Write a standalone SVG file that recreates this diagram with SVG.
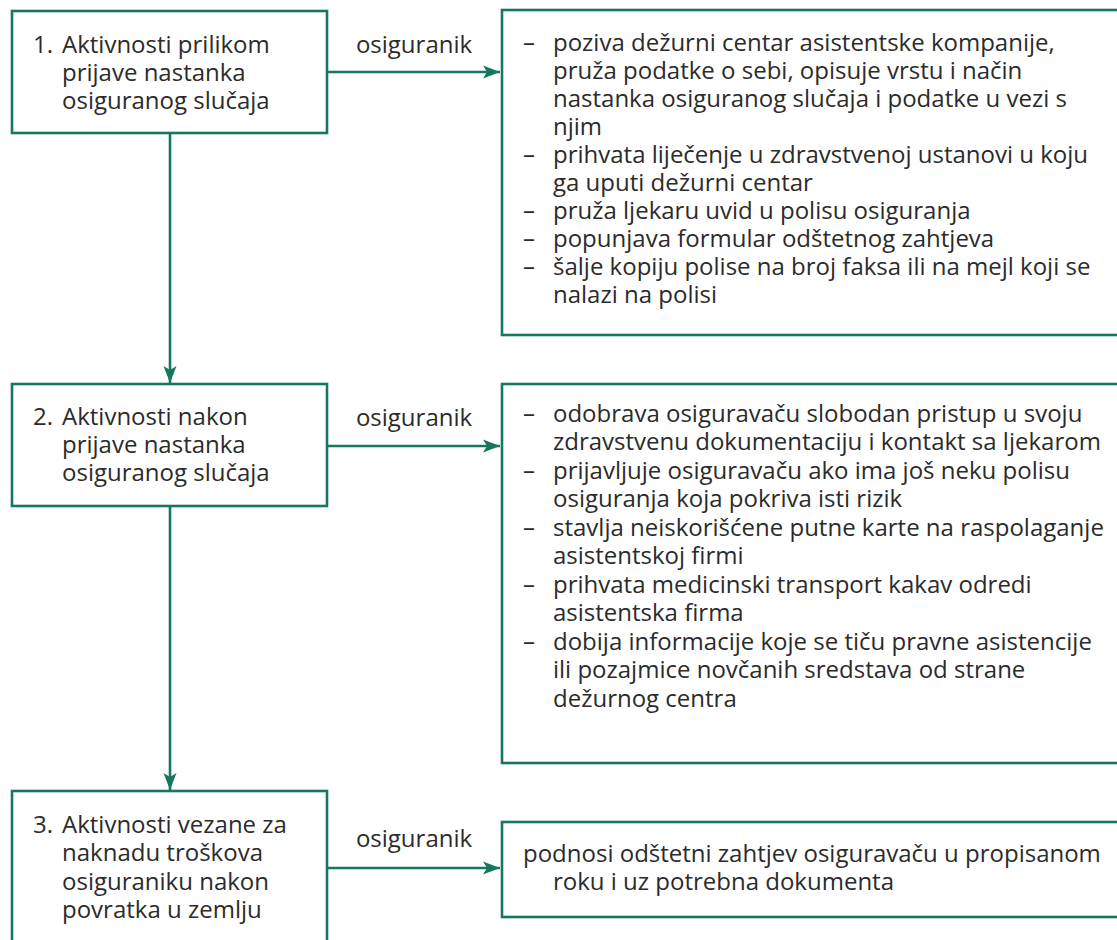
<svg xmlns="http://www.w3.org/2000/svg" width="1117" height="940" viewBox="0 0 1117 940">
<style>
.box{fill:#fff;stroke:#167760;stroke-width:2.6}
.con{fill:none;stroke:#167760;stroke-width:2.6}
text{font-family:"Open Sans","Noto Sans","Liberation Sans",sans-serif;font-size:24px;fill:#2b2b2b}
.lbl{text-anchor:middle}
</style>
<defs>
<marker id="arr" markerUnits="userSpaceOnUse" markerWidth="20" markerHeight="16" viewBox="-18 -8 20 16" refX="0" refY="0" orient="auto">
<path d="M0,0 L-17,-6.5 L-13,0 L-17,6.5 Z" fill="#167760"/>
</marker>
</defs>
<rect width="1117" height="940" fill="#fff"/>
<g id="connectors">
<line class="con" x1="327" y1="72" x2="500" y2="72" marker-end="url(#arr)"/>
<line class="con" x1="170" y1="133" x2="170" y2="383" marker-end="url(#arr)"/>
<line class="con" x1="327" y1="446" x2="500" y2="446" marker-end="url(#arr)"/>
<line class="con" x1="170" y1="506" x2="170" y2="790" marker-end="url(#arr)"/>
<line class="con" x1="327" y1="868" x2="500" y2="868" marker-end="url(#arr)"/>
<text class="lbl" x="414" y="53">osiguranik</text>
<text class="lbl" x="414" y="426">osiguranik</text>
<text class="lbl" x="414" y="847">osiguranik</text>
</g>
<g id="step1">
<rect class="box" x="12" y="11" width="315" height="122"/>
<text x="33" y="53">1.</text>
<text x="62" y="53">Aktivnosti prilikom</text>
<text x="62" y="81">prijave nastanka</text>
<text x="62" y="109">osiguranog slučaja</text>
</g>
<g id="detail1">
<rect class="box" x="502" y="10" width="640" height="325"/>
<text x="523" y="51">–</text><text x="553" y="51">poziva dežurni centar asistentske kompanije,</text>
<text x="553" y="79">pruža podatke o sebi, opisuje vrstu i način</text>
<text x="553" y="107">nastanka osiguranog slučaja i podatke u vezi s</text>
<text x="553" y="135">njim</text>
<text x="523" y="163">–</text><text x="553" y="163">prihvata liječenje u zdravstvenoj ustanovi u koju</text>
<text x="553" y="191">ga uputi dežurni centar</text>
<text x="523" y="219">–</text><text x="553" y="219">pruža ljekaru uvid u polisu osiguranja</text>
<text x="523" y="247">–</text><text x="553" y="247">popunjava formular odštetnog zahtjeva</text>
<text x="523" y="275">–</text><text x="553" y="275">šalje kopiju polise na broj faksa ili na mejl koji se</text>
<text x="553" y="303">nalazi na polisi</text>
</g>
<g id="step2">
<rect class="box" x="12" y="384" width="315" height="122"/>
<text x="33" y="425">2.</text>
<text x="62" y="425">Aktivnosti nakon</text>
<text x="62" y="453">prijave nastanka</text>
<text x="62" y="481">osiguranog slučaja</text>
</g>
<g id="detail2">
<rect class="box" x="502" y="384" width="640" height="379"/>
<text x="523" y="422">–</text><text x="553" y="422">odobrava osiguravaču slobodan pristup u svoju</text>
<text x="553" y="450">zdravstvenu dokumentaciju i kontakt sa ljekarom</text>
<text x="523" y="479">–</text><text x="553" y="479">prijavljuje osiguravaču ako ima još neku polisu</text>
<text x="553" y="507">osiguranja koja pokriva isti rizik</text>
<text x="523" y="536">–</text><text x="553" y="536">stavlja neiskorišćene putne karte na raspolaganje</text>
<text x="553" y="564">asistentskoj firmi</text>
<text x="523" y="593">–</text><text x="553" y="593">prihvata medicinski transport kakav odredi</text>
<text x="553" y="621">asistentska firma</text>
<text x="523" y="650">–</text><text x="553" y="650">dobija informacije koje se tiču pravne asistencije</text>
<text x="553" y="678">ili pozajmice novčanih sredstava od strane</text>
<text x="553" y="707">dežurnog centra</text>
</g>
<g id="step3">
<rect class="box" x="12" y="791" width="315" height="170"/>
<text x="33" y="833">3.</text>
<text x="62" y="833">Aktivnosti vezane za</text>
<text x="62" y="861">naknadu troškova</text>
<text x="62" y="890">osiguraniku nakon</text>
<text x="62" y="918">povratka u zemlju</text>
</g>
<g id="detail3">
<rect class="box" x="502" y="822" width="640" height="95"/>
<text x="523" y="862">podnosi odštetni zahtjev osiguravaču u propisanom</text>
<text x="553" y="890">roku i uz potrebna dokumenta</text>
</g>
</svg>
